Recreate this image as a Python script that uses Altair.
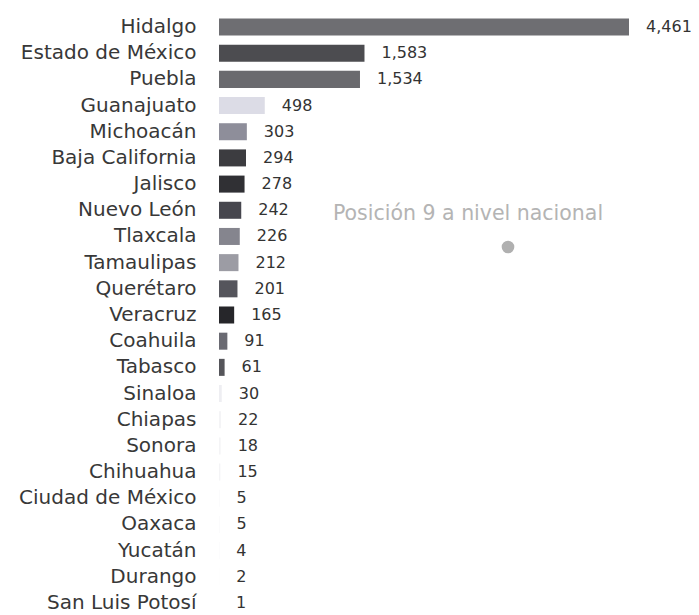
import altair as alt
import pandas as pd

estados = ["Hidalgo", "Estado de México", "Puebla", "Guanajuato", "Michoacán",
           "Baja California", "Jalisco", "Nuevo León", "Tlaxcala", "Tamaulipas",
           "Querétaro", "Veracruz", "Coahuila", "Tabasco", "Sinaloa", "Chiapas",
           "Sonora", "Chihuahua", "Ciudad de México", "Oaxaca", "Yucatán",
           "Durango", "San Luis Potosí"]
valores = [4461, 1583, 1534, 498, 303, 294, 278, 242, 226, 212, 201, 165, 91, 61,
           30, 22, 18, 15, 5, 5, 4, 2, 1]
colores = ["#6e6e72", "#4c4c50", "#6a6a6e", "#dcdce6", "#8e8e9a", "#3c3c40",
           "#303034", "#46464e", "#85858e", "#9c9ca4", "#55555c", "#26262a",
           "#6a6a72", "#55555a", "#eeeef2", "#f4f4f6", "#f4f4f6", "#f4f4f6",
           "#f6f6f8", "#f6f6f8", "#f6f6f8", "#f6f6f8", "#f6f6f8"]
nota = "Posición 9 a nivel nacional"

df = pd.DataFrame({"estado": estados, "valor": valores})

y = alt.Y("estado:N", sort=estados, title=None,
          scale=alt.Scale(paddingInner=0.35, paddingOuter=0.0),
          axis=alt.Axis(domain=False, ticks=False, labelPadding=23,
                        labelFont="DejaVu Sans", labelFontSize=20,
                        labelColor="#383838", labelLimit=300))
x = alt.X("valor:Q", title=None, scale=alt.Scale(domain=[0, 4461], nice=False),
          axis=None)

bars = alt.Chart(df).mark_bar().encode(
    x=x, y=y,
    color=alt.Color("estado:N", scale=alt.Scale(domain=estados, range=colores),
                    legend=None),
)

labels = alt.Chart(df).mark_text(
    align="left", baseline="middle", dx=17, font="DejaVu Sans", fontSize=16,
    color="#333333"
).encode(x=x, y=y, text=alt.Text("valor:Q", format=","))

note = alt.Chart(pd.DataFrame({"t": [nota]})).mark_text(
    font="DejaVu Sans", fontSize=20.5, color="#b4b4b4", align="center",
    baseline="middle"
).encode(x=alt.value(249), y=alt.value(195.5), text="t:N")

dot = alt.Chart(pd.DataFrame({"t": [nota]})).mark_circle(
    size=160, color="#b0b0b0", opacity=1
).encode(x=alt.value(289), y=alt.value(228.5))

chart = alt.layer(bars, labels, note, dot).properties(
    width=410, height=593,
    autosize=alt.AutoSizeParams(type="none"),
    padding={"left": 211, "top": 10.5, "right": 62, "bottom": 5},
).configure_view(stroke=None)

chart.save("out.html", embed_options={"renderer": "svg", "actions": False})
